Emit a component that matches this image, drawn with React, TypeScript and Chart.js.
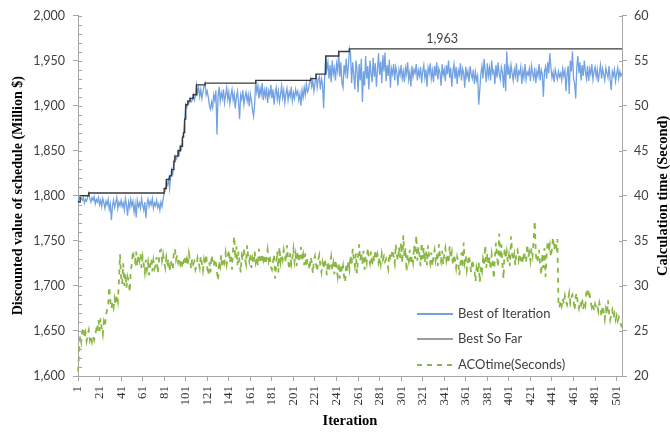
import React, { useEffect, useRef } from "react";
import { Chart, registerables } from "chart.js";

Chart.register(...registerables);

// ---------- DATA ----------
const bestOfIteration: number[] = [
  1793, 1799, 1800, 1797, 1795, 1798, 1792, 1796, 1794, 1799, 1803, 1797, 1793, 1798, 1795, 1799, 1791, 1796, 1793, 1798,
  1790, 1795, 1788, 1797, 1792, 1786, 1794, 1790, 1796, 1785, 1791, 1773, 1789, 1795, 1787, 1792, 1798, 1786, 1793, 1789,
  1795, 1788, 1792, 1784, 1797, 1790, 1778, 1793, 1787, 1796, 1789, 1794, 1782, 1791, 1776, 1795, 1788, 1792, 1786, 1797,
  1790, 1784, 1793, 1775, 1791, 1796, 1788, 1794, 1790, 1797, 1786, 1792, 1789, 1795, 1787, 1791, 1784, 1793, 1788, 1796,
  1803, 1806, 1815, 1812, 1818, 1808, 1822, 1829, 1825, 1838, 1844, 1840, 1842, 1850, 1846, 1855, 1852, 1865, 1870, 1885,
  1901, 1898, 1905, 1903, 1908, 1904, 1906, 1912, 1906, 1911, 1923, 1914, 1920, 1910, 1918, 1908, 1915, 1922, 1925, 1912,
  1916, 1909, 1900, 1896, 1904, 1898, 1912, 1906, 1917, 1868, 1910, 1921, 1905, 1914, 1908, 1918, 1903, 1912, 1920, 1907,
  1915, 1902, 1911, 1918, 1906, 1913, 1897, 1909, 1916, 1904, 1885, 1912, 1907, 1917, 1901, 1910, 1915, 1905, 1912, 1899,
  1913, 1906, 1895, 1888, 1902, 1928, 1915, 1922, 1908, 1919, 1912, 1925, 1906, 1917, 1910, 1921, 1903, 1916, 1911, 1923,
  1908, 1918, 1901, 1914, 1920, 1907, 1916, 1904, 1912, 1922, 1909, 1917, 1903, 1913, 1919, 1906, 1915, 1910, 1921, 1905,
  1914, 1908, 1918, 1912, 1916, 1906, 1913, 1900, 1917, 1909, 1920, 1912, 1924, 1915, 1918, 1926, 1930, 1921, 1928, 1916,
  1925, 1935, 1920, 1929, 1932, 1918, 1930, 1924, 1897, 1933, 1955, 1940, 1948, 1930, 1945, 1926, 1950, 1935, 1942, 1928,
  1946, 1938, 1960, 1932, 1948, 1925, 1920, 1945, 1936, 1952, 1930, 1944, 1963, 1958, 1925, 1948, 1935, 1918, 1950, 1940,
  1915, 1946, 1928, 1952, 1904, 1938, 1922, 1955, 1930, 1944, 1918, 1950, 1936, 1926, 1953, 1932, 1947, 1921, 1940, 1958,
  1934, 1949, 1925, 1956, 1938, 1959, 1927, 1945, 1933, 1951, 1920, 1941, 1935, 1946, 1928, 1943, 1937, 1922, 1940, 1934,
  1945, 1930, 1938, 1926, 1942, 1935, 1948, 1929, 1937, 1921, 1944, 1932, 1940, 1936, 1946, 1928, 1939, 1933, 1943, 1925,
  1938, 1945, 1931, 1940, 1921, 1942, 1936, 1947, 1930, 1939, 1926, 1944, 1933, 1948, 1929, 1941, 1937, 1922, 1946, 1934,
  1940, 1927, 1945, 1935, 1950, 1931, 1942, 1921, 1938, 1946, 1930, 1943, 1924, 1939, 1934, 1947, 1928, 1941, 1936, 1920,
  1943, 1932, 1938, 1926, 1944, 1935, 1930, 1940, 1924, 1937, 1928, 1933, 1901, 1918, 1935, 1944, 1930, 1952, 1938, 1926,
  1947, 1933, 1942, 1928, 1950, 1936, 1939, 1924, 1945, 1931, 1948, 1935, 1929, 1943, 1937, 1920, 1946, 1916, 1960, 1934,
  1942, 1930, 1945, 1936, 1928, 1940, 1933, 1947, 1926, 1938, 1935, 1943, 1924, 1939, 1931, 1946, 1929, 1937, 1934, 1941,
  1927, 1944, 1936, 1930, 1942, 1925, 1938, 1933, 1946, 1928, 1940, 1935, 1910, 1938, 1943, 1930, 1948, 1936, 1958, 1942,
  1931, 1937, 1926, 1940, 1934, 1929, 1938, 1932, 1936, 1928, 1941, 1933, 1939, 1916, 1935, 1944, 1913, 1950, 1938, 1960,
  1930, 1925, 1908, 1942, 1955, 1936, 1948, 1928, 1945, 1933, 1950, 1938, 1930, 1944, 1927, 1941, 1935, 1946, 1929, 1938,
  1943, 1932, 1940, 1926, 1937, 1945, 1930, 1941, 1934, 1928, 1942, 1936, 1931, 1944, 1929, 1917, 1938, 1933, 1940, 1927,
  1935, 1942, 1930, 1938, 1933, 1936,
];

// [iteration, value] points where the best-so-far value changes (plus the last iteration)
const bestSoFarSteps: [number, number][] = [
  [1, 1793], [3, 1800], [11, 1803], [81, 1808], [83, 1818], [86, 1822], [88, 1829], [90, 1838],
  [91, 1844], [94, 1850], [96, 1855], [98, 1865], [99, 1870], [100, 1885], [101, 1901], [103, 1905],
  [105, 1908], [108, 1912], [111, 1923], [119, 1925], [166, 1928], [217, 1930], [222, 1935],
  [231, 1955], [243, 1960], [253, 1963], [506, 1963],
];

const acoTimeSeconds: number[] = [
  20.5, 22.5, 24.5, 23.8, 25.0, 25.4, 24.2, 24.8, 23.9, 24.6, 25.1, 24.0, 24.5, 23.8, 24.4, 24.0, 24.6, 25.2, 24.8, 26.2,
  25.0, 26.4, 25.3, 24.6, 26.0, 25.5, 26.8, 27.3, 27.8, 29.9, 28.4, 27.5, 28.2, 27.6, 28.6, 27.9, 29.0, 28.3, 30.5, 33.5,
  31.0, 30.2, 32.5, 30.0, 31.4, 29.8, 31.0, 30.5, 29.3, 31.7, 32.5, 33.9, 33.0, 32.6, 33.8, 32.2, 33.4, 32.8, 33.6, 32.0,
  33.2, 32.4, 31.5, 32.9, 31.8, 32.6, 31.2, 32.4, 33.0, 31.6, 32.8, 31.9, 32.3, 33.2, 31.4, 32.6, 33.9, 34.0, 32.8, 33.5,
  32.6, 32.0, 33.2, 32.5, 33.0, 31.6, 32.8, 32.2, 31.8, 33.8, 34.1, 32.9, 33.4, 32.6, 33.1, 32.4, 32.9, 32.0, 32.7, 33.3,
  32.5, 33.0, 32.2, 33.6, 32.8, 31.9, 33.0, 32.4, 32.7, 31.8, 32.2, 33.1, 32.6, 32.0, 33.3, 32.5, 31.7, 32.9, 32.3, 33.5,
  32.0, 31.2, 32.6, 31.5, 33.4, 32.7, 32.2, 33.0, 32.5, 31.6, 30.6, 32.8, 32.2, 33.4, 32.0, 33.1, 32.6, 33.6, 32.4, 33.2,
  34.0, 32.6, 33.5, 31.8, 34.2, 35.5, 33.0, 34.4, 32.3, 33.8, 32.6, 31.5, 33.3, 32.8, 34.2, 33.0, 32.4, 34.5, 33.2, 32.7,
  33.6, 32.0, 33.0, 32.4, 33.8, 32.6, 33.2, 32.2, 34.1, 33.0, 32.5, 33.6, 32.8, 33.3, 32.4, 33.0, 34.0, 32.8, 33.4, 32.1,
  31.8, 32.6, 33.5, 30.8, 32.4, 33.8, 31.5, 34.3, 32.7, 33.5, 32.9, 34.0, 33.3, 32.6, 34.5, 33.0, 31.8, 33.6, 32.4, 33.1,
  34.1, 32.7, 33.5, 32.2, 33.8, 32.6, 33.2, 34.3, 32.9, 33.5, 32.3, 33.6, 32.1, 33.0, 32.5, 31.8, 33.2, 32.6, 31.4, 32.8,
  33.3, 32.4, 31.6, 32.9, 33.4, 32.2, 31.5, 32.6, 31.9, 33.0, 32.3, 31.2, 32.7, 31.6, 32.4, 33.2, 31.8, 32.5, 31.3, 32.9,
  32.0, 31.1, 32.6, 30.8, 32.4, 31.5, 32.2, 31.0, 30.4, 32.5, 31.6, 32.8, 31.9, 33.4, 32.3, 34.1, 33.0, 32.2, 33.6, 31.4,
  33.2, 34.6, 32.8, 33.7, 32.4, 33.9, 31.8, 33.3, 32.6, 34.2, 33.1, 32.5, 33.8, 32.2, 33.4, 32.7, 34.0, 32.9, 33.5, 32.6,
  33.2, 32.4, 33.6, 32.9, 33.3, 32.7, 33.0, 32.5, 31.9, 33.6, 32.8, 33.4, 34.0, 33.2, 32.5, 34.6, 33.4, 32.8, 34.3, 33.1,
  34.8, 32.5, 35.6, 33.2, 34.2, 31.6, 33.5, 32.8, 34.0, 32.4, 33.3, 32.6, 34.5, 33.0, 35.6, 32.8, 34.3, 33.4, 32.2, 34.8,
  33.0, 34.2, 32.6, 33.8, 32.3, 34.5, 33.1, 32.5, 33.7, 32.2, 33.4, 34.0, 32.8, 33.5, 32.2, 34.6, 33.3, 32.7, 33.9, 32.4,
  33.6, 34.2, 32.8, 33.4, 32.5, 34.4, 33.0, 33.7, 32.3, 33.5, 32.9, 32.0, 33.2, 32.6, 31.2, 32.5, 33.7, 32.0, 34.8, 32.6,
  33.3, 31.8, 32.7, 33.4, 32.2, 31.5, 32.9, 32.3, 31.7, 30.5, 32.0, 31.4, 32.6, 30.4, 32.2, 31.6, 33.0, 32.4, 34.5, 32.0,
  33.6, 32.3, 33.2, 31.8, 33.5, 32.6, 30.8, 33.2, 34.8, 33.3, 32.1, 35.8, 33.0, 34.6, 32.4, 30.8, 34.2, 33.0, 33.8, 32.6,
  33.4, 32.2, 35.5, 33.6, 32.8, 33.5, 32.3, 33.8, 34.0, 32.9, 33.6, 32.7, 33.2, 32.5, 33.8, 33.0, 32.6, 34.6, 33.2, 33.7,
  32.8, 34.2, 33.4, 35.2, 37.2, 33.5, 32.6, 33.0, 34.0, 32.4, 31.2, 33.6, 32.0, 34.2, 31.0, 33.4, 35.0, 33.8, 34.5, 33.2,
  34.2, 35.4, 34.0, 34.9, 34.3, 35.2, 28.2, 27.6, 28.4, 27.8, 28.6, 28.0, 28.9, 28.3, 27.9, 28.5, 29.2, 28.1, 28.7, 29.0,
  28.4, 27.3, 28.8, 29.2, 28.0, 27.5, 28.3, 27.9, 28.6, 27.4, 28.2, 27.8, 29.5, 29.7, 28.6, 29.0, 28.2, 27.6, 28.0, 27.3,
  28.0, 27.6, 27.9, 27.2, 28.1, 27.5, 26.6, 27.8, 27.1, 26.3, 27.4, 26.8, 28.4, 27.0, 26.2, 26.8, 27.3, 26.4, 26.9, 26.2,
  26.7, 26.1, 26.5, 26.0, 25.7, 25.4,
];

const iterations: number[] = Array.from({ length: bestOfIteration.length }, (_, i) => i + 1);

const seriesNames = ["Best of Iteration", "Best So Far", "ACOtime(Seconds)"];
const annotatedIteration = 339;
const annotatedValue = 1963;

// ---------- STYLE ----------
const BLUE = "#72a2e2";
const DARK = "#3a3a3a";
const GREEN = "#8ab644";
const AXIS = "#a6a6a6";
const TEXT = "#404040";
const SANS = "Lato, 'Open Sans', sans-serif";
const SERIF = "'Liberation Serif', 'Times New Roman', serif";

const fmt = (v: number) => v.toLocaleString("en-US");

const decorPlugin = {
  id: "decor",
  afterDraw(chart: any) {
    const { ctx, chartArea, scales } = chart;
    const y = scales.y;
    const y2 = scales.y2;
    const x = scales.x;
    ctx.save();
    // inner minor ticks on left axis, inner ticks on right axis
    ctx.strokeStyle = AXIS;
    ctx.lineWidth = 1;
    ctx.beginPath();
    for (let v = y.min; v <= y.max; v += 10) {
      const py = Math.round(y.getPixelForValue(v)) + 0.5;
      ctx.moveTo(chartArea.left, py);
      ctx.lineTo(chartArea.left + 4, py);
    }
    for (let v = y2.min; v <= y2.max; v += 5) {
      const py = Math.round(y2.getPixelForValue(v)) + 0.5;
      ctx.moveTo(chartArea.right - 3, py);
      ctx.lineTo(chartArea.right, py);
    }
    ctx.stroke();

    // data label
    ctx.fillStyle = TEXT;
    ctx.font = `12.5px ${SANS}`;
    ctx.textAlign = "center";
    ctx.textBaseline = "bottom";
    ctx.fillText(
      fmt(annotatedValue),
      x.getPixelForValue(annotatedIteration - 1),
      y.getPixelForValue(annotatedValue) - 4
    );

    // right axis title (reads bottom to top)
    ctx.save();
    ctx.translate(y2.right - 7, (chartArea.top + chartArea.bottom) / 2);
    ctx.rotate(-Math.PI / 2);
    ctx.font = `bold 14.5px ${SERIF}`;
    ctx.fillStyle = "#000";
    ctx.textAlign = "center";
    ctx.textBaseline = "middle";
    ctx.fillText("Calculation time (Second)", 0, 0);
    ctx.restore();

    // legend inside plot area
    const lx = chartArea.left + 339;
    const rows = [chartArea.top + 298, chartArea.top + 323, chartArea.top + 349];
    chart.data.datasets.forEach((ds: any, i: number) => {
      const ry = rows[i] + 0.5;
      ctx.beginPath();
      ctx.strokeStyle = ds.borderColor;
      ctx.lineWidth = i === 1 ? 1.2 : 2;
      ctx.setLineDash(ds.borderDash || []);
      ctx.moveTo(lx, ry);
      ctx.lineTo(lx + 36, ry);
      ctx.stroke();
      ctx.setLineDash([]);
      ctx.fillStyle = TEXT;
      ctx.font = `13px ${SANS}`;
      ctx.textAlign = "left";
      ctx.textBaseline = "middle";
      ctx.fillText(ds.label, lx + 41, ry);
    });
    ctx.restore();
  },
};

export default function App() {
  const canvasRef = useRef<HTMLCanvasElement | null>(null);

  useEffect(() => {
    const canvas = canvasRef.current;
    if (!canvas) return;
    const chart = new Chart(canvas, {
      type: "line",
      data: {
        labels: iterations,
        datasets: [
          {
            label: seriesNames[0],
            data: bestOfIteration,
            borderColor: BLUE,
            borderWidth: 1.3,
            pointRadius: 0,
            tension: 0,
            yAxisID: "y",
            order: 1,
          },
          {
            label: seriesNames[1],
            data: bestSoFarSteps.map(([it, v]) => ({ x: it, y: v })) as any,
            borderColor: DARK,
            borderWidth: 1.4,
            pointRadius: 0,
            stepped: true,
            yAxisID: "y",
            order: 0,
          },
          {
            label: seriesNames[2],
            data: acoTimeSeconds,
            borderColor: GREEN,
            borderWidth: 1.8,
            borderDash: [5, 5],
            pointRadius: 0,
            tension: 0,
            yAxisID: "y2",
            order: 2,
          },
        ],
      },
      options: {
        responsive: false,
        animation: false,
        events: [],
        layout: { padding: { top: 14, left: 0, right: 0, bottom: 0 } },
        plugins: {
          legend: { display: false },
          tooltip: { enabled: false },
        },
        scales: {
          x: {
            type: "category",
            offset: false,
            border: { color: AXIS, width: 1 },
            grid: { display: true, drawOnChartArea: false, drawTicks: true, tickLength: 5, color: AXIS },
            ticks: {
              autoSkip: false,
              maxRotation: 90,
              minRotation: 90,
              padding: 5,
              color: "#333",
              font: { family: SERIF, size: 13 },
              callback: function (this: any, value: any, index: number) {
                return index % 20 === 0 ? String(this.getLabelForValue(value)) : null;
              },
            },
            title: {
              display: true,
              text: "Iteration",
              color: "#000",
              font: { family: SERIF, size: 14.5, weight: "bold" },
              padding: { top: 0, bottom: 3 },
            },
            afterFit(scale: any) {
              scale.height = 57;
            },
          },
          y: {
            position: "left",
            min: 1600,
            max: 2000,
            border: { color: AXIS, width: 1 },
            grid: { display: true, drawOnChartArea: false, drawTicks: true, tickLength: 5, color: AXIS },
            ticks: {
              stepSize: 50,
              padding: 8,
              color: TEXT,
              font: { family: SANS, size: 12.5 },
              callback: (v: any) => fmt(Number(v)),
            },
            title: {
              display: true,
              text: "Discounted value of schedule (Million $)",
              color: "#000",
              font: { family: SERIF, size: 14, weight: "bold" },
              padding: { top: 10, bottom: 0 },
            },
            afterFit(scale: any) {
              scale.width = 78;
            },
          },
          y2: {
            position: "right",
            min: 20,
            max: 60,
            border: { color: AXIS, width: 1 },
            grid: { display: true, drawOnChartArea: false, drawTicks: true, tickLength: 5, color: AXIS },
            ticks: {
              stepSize: 5,
              padding: 7,
              color: TEXT,
              font: { family: SANS, size: 12.5 },
            },
            afterFit(scale: any) {
              scale.width = 48;
            },
          },
        },
      } as any,
      plugins: [decorPlugin],
    });
    return () => chart.destroy();
  }, []);

  return (
    <div style={{ position: "absolute", left: 0, top: 0, width: 670, height: 433, background: "#fff" }}>
      <canvas ref={canvasRef} width={670} height={433} style={{ width: 670, height: 433, display: "block" }} />
    </div>
  );
}
